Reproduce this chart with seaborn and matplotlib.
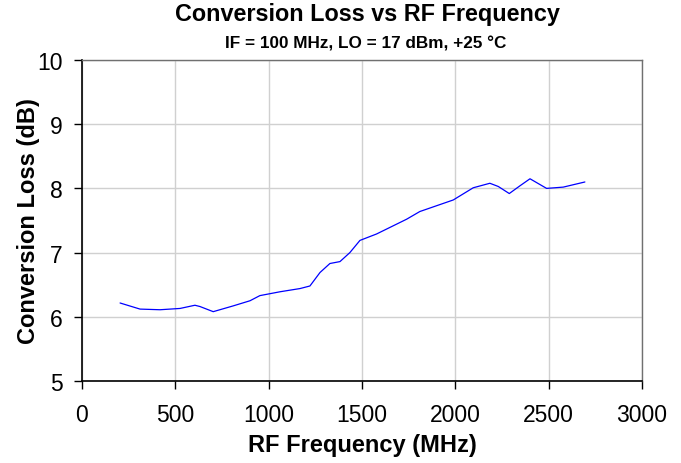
import matplotlib
matplotlib.use("Agg")
import matplotlib.pyplot as plt
import seaborn as sns
import pandas as pd

freq_mhz = [204, 311, 418, 525, 605, 632, 703, 810, 900, 953, 1061, 1168, 1221, 1275,
            1328, 1382, 1435, 1489, 1578, 1739, 1810, 1989, 2096, 2185, 2230, 2289,
            2346, 2400, 2489, 2578, 2694]
loss_db = [6.215, 6.12, 6.11, 6.13, 6.18, 6.16, 6.08, 6.17, 6.25, 6.33, 6.39, 6.44, 6.48,
           6.69, 6.83, 6.86, 7.00, 7.19, 7.29, 7.52, 7.64, 7.82, 8.01, 8.08, 8.03, 7.92,
           8.04, 8.15, 8.00, 8.02, 8.10]
x_ticks = [0, 500, 1000, 1500, 2000, 2500, 3000]
y_ticks = [5, 6, 7, 8, 9, 10]

df = pd.DataFrame({"freq": freq_mhz, "loss": loss_db})

sns.set_theme(style="white")
plt.rcParams["font.family"] = ["Liberation Sans", "DejaVu Sans"]
plt.rcParams["text.color"] = "black"
plt.rcParams["axes.labelcolor"] = "black"

fig = plt.figure(figsize=(6.81, 4.64), dpi=100)
ax = fig.add_axes([82 / 681, 1 - 382 / 464, (642 - 82) / 681, (382 - 61) / 464])

sns.lineplot(data=df, x="freq", y="loss", ax=ax, color="#0000ff", linewidth=0.9)
ax.lines[0].set_solid_joinstyle("round")

ax.set_xlim(0, 3000)
ax.set_ylim(5, 10)
ax.set_xticks(x_ticks)
ax.set_yticks(y_ticks)
ax.tick_params(axis="both", labelsize=16.5, direction="out", length=5.8, width=1,
               color="black", labelcolor="black", bottom=True, left=True)
ax.tick_params(axis="x", pad=10)
ax.tick_params(axis="y", pad=8)
ax.grid(True, color="#d0d0d0", linewidth=1)
for side in ["left", "bottom"]:
    ax.spines[side].set_color("black")
    ax.spines[side].set_linewidth(1.2)
for side in ["top", "right"]:
    ax.spines[side].set_color("#707070")
    ax.spines[side].set_linewidth(1)

ax.set_xlabel("RF Frequency (MHz)", fontsize=17, fontweight="bold", labelpad=5)
ax.set_ylabel("Conversion Loss (dB)", fontsize=17, fontweight="bold", labelpad=-2)

fig.text(367 / 681, 1 - 15 / 464, "Conversion Loss vs RF Frequency", ha="center", va="center",
         fontsize=16.8, fontweight="bold")
fig.text(366 / 681, 1 - 44 / 464, "IF = 100 MHz, LO = 17 dBm, +25 \u00b0C", ha="center",
         va="center", fontsize=12.3, fontweight="bold")

fig.savefig("out.png", dpi=100)
